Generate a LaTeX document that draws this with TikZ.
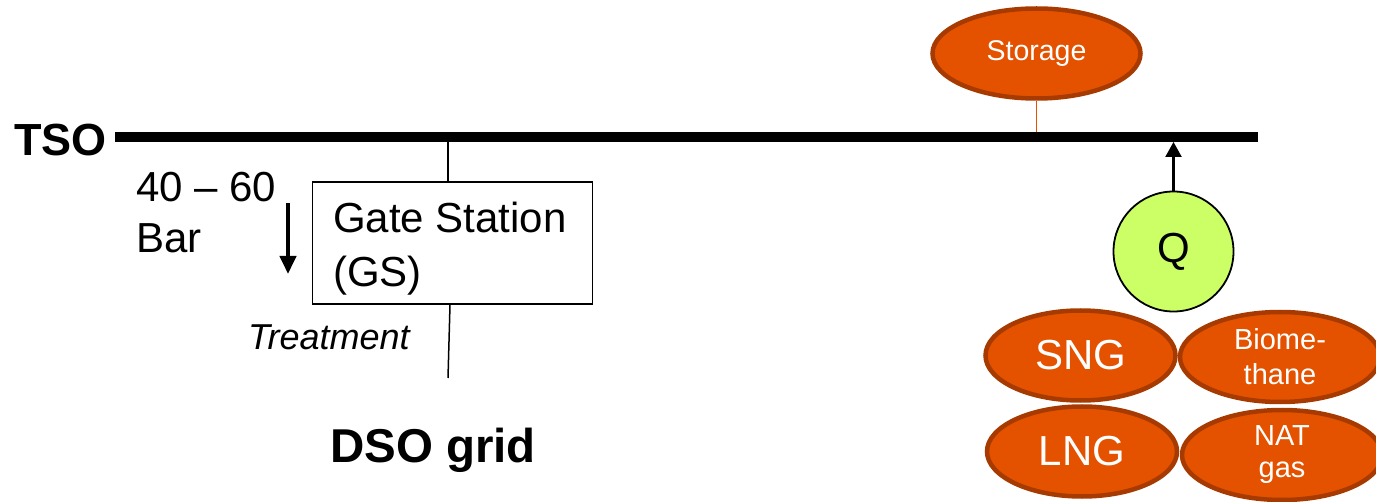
\documentclass[tikz,border=0pt]{standalone}
\usepackage{fontspec}
\setmainfont{Liberation Sans}
\usetikzlibrary{shapes.geometric,arrows.meta,calc}
\definecolor{srcfill}{RGB}{228,82,0}
\definecolor{srcedge}{RGB}{166,58,0}
\definecolor{qfill}{RGB}{204,255,102}

\begin{document}
\begin{tikzpicture}[x=1pt,y=-1pt,
  source/.style={ellipse, draw=srcedge, line width=4.5pt, fill=srcfill,
    text=white, inner sep=0pt, minimum width=190pt, minimum height=90pt,
    align=center},
  bigsrc/.style={font=\fontsize{42}{46}\selectfont},
  smallsrc/.style={font=\fontsize{29}{#1}\selectfont},
  gatebox/.style={draw, line width=1.5pt, minimum width=280pt,
    minimum height=122pt, inner sep=0pt},
  plain/.style={inner sep=0pt, align=left},
  quality/.style={circle, draw, line width=1.8pt, fill=qfill, inner sep=0pt,
    minimum size=120pt, font=\fontsize{42}{46}\selectfont},
  mainline/.style={line width=10pt},
  tap/.style={line width=1.5pt}
]
\useasboundingbox (0,0) rectangle (1376,502);

% transmission main
\coordinate (tsoL) at (115,137);
\coordinate (tsoR) at (1258,137);
\coordinate (tapGS) at (448,137);
\coordinate (dsoEnd) at (448,378);
\coordinate (pTop) at (288,203);
\coordinate (pTip) at (288,274);

% storage on the main
\node[source, minimum width=208pt, font=\fontsize{28.5}{32}\selectfont]
  (storage) at (1036.5,53.5) {Storage};
\draw[srcfill, line width=1.5pt] (storage.south) -- (storage.south |- tsoL);

% gate station (base anchor of a two-line label sits on its last line)
\node[gatebox] (gs) at (452.5,243) {};
\node[plain, anchor=base west, font=\fontsize{42}{54}\selectfont]
  (gslabel) at (333,287) {Gate Station\\(GS)};
\draw[tap] (tapGS) -- (tapGS |- gs.north);
\draw[tap] ($(gs.south)+(-2.5,0)$) -- (dsoEnd);

\draw[mainline] (tsoL) -- (tsoR);
\node[plain, anchor=base west, font=\fontsize{45}{50}\selectfont\bfseries]
  (tso) at (14,156) {TSO};

% pressure level
\node[plain, anchor=base west, font=\fontsize{42}{51}\selectfont]
  (pressure) at (136,253) {40 – 60\\Bar};
\draw[line width=4pt, -{Triangle[width=16pt,length=18pt]}] (pTop) -- (pTip);

\node[plain, anchor=base west, font=\fontsize{36}{40}\selectfont\itshape]
  (treat) at (248,350) {Treatment};
\node[plain, anchor=base west, font=\fontsize{47.5}{52}\selectfont\bfseries]
  (dso) at (330,462) {DSO grid};

% gas quality and sources
\node[quality] (q) at (1173.5,251.5) {Q};
\draw[line width=2.2pt, -{Triangle[width=16pt,length=15pt]}]
  (q.north) -- ($(q.north |- tsoL)+(0,5)$);

\node[source, bigsrc] (sng) at (1080.5,355.5) {SNG};
\node[source, smallsrc=35, minimum width=200pt] (bio) at (1280,357) {Biome-\\thane};
\node[source, bigsrc] (lng) at (1082,451.5) {LNG};
\node[source, smallsrc=32, minimum width=200pt] (nat) at (1282,455) {NAT\\gas};
\end{tikzpicture}
\end{document}
